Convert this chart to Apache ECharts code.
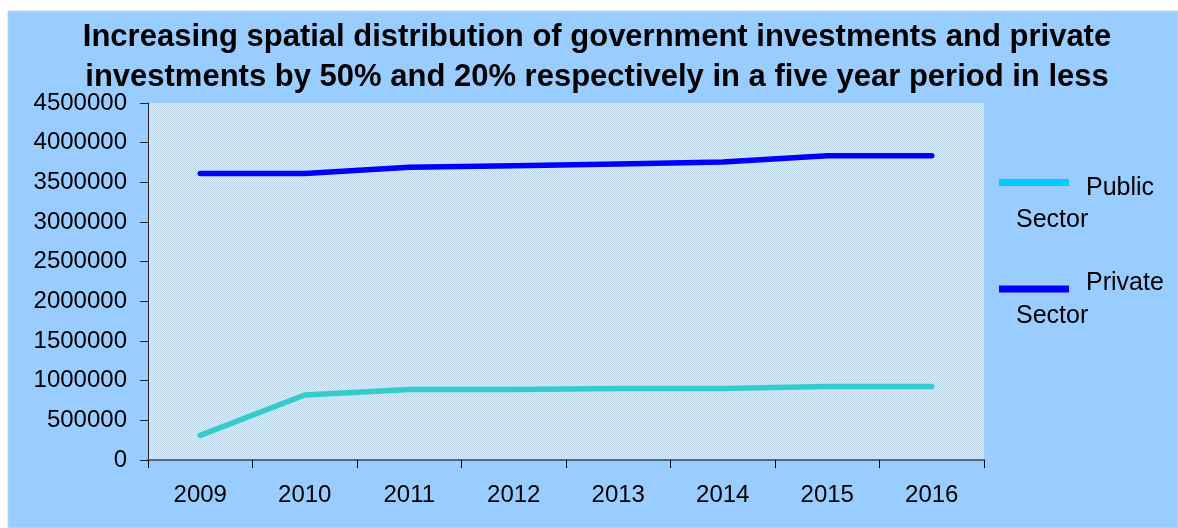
<!DOCTYPE html>
<html>
<head>
<meta charset="utf-8">
<script src="https://cdn.jsdelivr.net/npm/echarts@6/dist/echarts.min.js"></script>
<style>
html,body{margin:0;padding:0;background:#fff;}
#chart{width:1178px;height:528px;}
</style>
</head>
<body>
<div id="chart"></div>
<script>
const titleText = 'Increasing spatial distribution of government investments and private\ninvestments by 50% and 20% respectively in a five year period in less';
const years = ['2009', '2010', '2011', '2012', '2013', '2014', '2015', '2016'];
const publicSector = [310000, 820000, 890000, 890000, 900000, 900000, 925000, 925000];
const privateSector = [3610000, 3610000, 3690000, 3710000, 3730000, 3755000, 3835000, 3835000];
const seriesNames = ['Public Sector', 'Private Sector'];

// hatched plot-area pattern
const pc = document.createElement('canvas');
pc.width = 2; pc.height = 2;
const pctx = pc.getContext('2d');
pctx.fillStyle = '#DCEBF6'; pctx.fillRect(0, 0, 2, 2);
pctx.fillStyle = '#BDD6EA'; pctx.fillRect(0, 0, 1, 1); pctx.fillRect(1, 1, 1, 1);

const chart = echarts.init(document.getElementById('chart'));
const font = 'Liberation Sans, Arial, sans-serif';
chart.setOption({
  backgroundColor: '#ffffff',
  animation: false,
  graphic: [{
    type: 'rect', z: -10, silent: true,
    shape: { x: 8, y: 11, width: 1170, height: 517 },
    style: { fill: '#99CCFF', stroke: '#C8D8E4', lineWidth: 1 }
  }],
  title: {
    text: titleText,
    left: 592, top: 12, textAlign: 'center',
    textStyle: { fontFamily: font, fontWeight: 'bold', fontSize: 31, lineHeight: 40, color: '#000' }
  },
  grid: {
    left: 148, right: 194, top: 103, bottom: 68,
    show: true, borderWidth: 0,
    backgroundColor: { image: pc, repeat: 'repeat' }
  },
  legend: {
    orient: 'vertical', left: 988, top: 165,
    itemWidth: 0, itemHeight: 0, itemGap: 38,
    data: seriesNames,
    formatter: function (name) {
      const parts = name.split(' ');
      const key = name === seriesNames[0] ? 'l1' : 'l2';
      return '{' + key + '|}{t|' + parts[0] + '}\n{s|' + parts[1] + '}';
    },
    textStyle: {
      fontFamily: font, fontSize: 25, color: '#000',
      rich: {
        l1: { width: 70, height: 7, backgroundColor: '#00CCFF', verticalAlign: 'top', lineHeight: 18 },
        l2: { width: 70, height: 7, backgroundColor: '#0000FF', verticalAlign: 'bottom', lineHeight: 18 },
        t: { fontFamily: font, fontSize: 25, color: '#000', padding: [0, 0, 0, 17], lineHeight: 18 },
        s: { fontFamily: font, fontSize: 25, color: '#000', padding: [0, 0, 0, 17], lineHeight: 47 }
      }
    }
  },
  xAxis: {
    type: 'category', data: years, boundaryGap: true,
    axisLine: { lineStyle: { color: '#4E6B88', width: 2 } },
    axisTick: { show: true, interval: 0, length: 8, lineStyle: { color: '#000', width: 1 } },
    axisLabel: { interval: 0, margin: 23, fontFamily: font, fontSize: 24, color: '#000' },
    splitLine: { show: false }
  },
  yAxis: {
    type: 'value', min: 0, max: 4500000, interval: 500000,
    axisLine: { show: true, lineStyle: { color: '#222', width: 1 } },
    axisTick: { show: true, length: 8, lineStyle: { color: '#222' } },
    axisLabel: { margin: 21, fontFamily: font, fontSize: 24, color: '#000', formatter: v => String(v) },
    splitLine: { show: false }
  },
  series: [
    {
      name: seriesNames[0], type: 'line', data: publicSector, symbol: 'none',
      itemStyle: { color: '#33CCCC' },
      lineStyle: { color: '#33CCCC', width: 5.5, cap: 'round', join: 'round' }
    },
    {
      name: seriesNames[1], type: 'line', data: privateSector, symbol: 'none',
      itemStyle: { color: '#0000FF' },
      lineStyle: { color: '#0000FF', width: 5.5, cap: 'round', join: 'round' }
    }
  ]
});
</script>
</body>
</html>
